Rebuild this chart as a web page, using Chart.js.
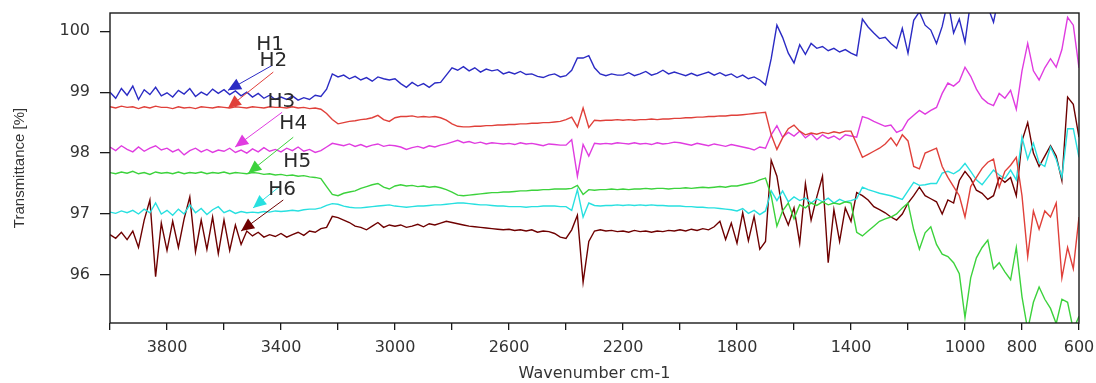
<!DOCTYPE html>
<html>
<head>
<meta charset="utf-8">
<script src="https://cdn.jsdelivr.net/npm/chart.js@4/dist/chart.umd.min.js"></script>
<style>
  html, body { margin: 0; padding: 0; background: #fff; }
</style>
</head>
<body>
<canvas id="ftirChart" width="1096" height="383"></canvas>
<script>
// wavenumber grid (cm-1), shared by all spectra
const wavenumbers = [
  4000, 3980, 3960, 3940, 3920, 3900, 3880, 3860, 3840, 3820,
  3800, 3780, 3760, 3740, 3720, 3700, 3680, 3660, 3640, 3620,
  3600, 3580, 3560, 3540, 3520, 3500, 3480, 3460, 3440, 3420,
  3400, 3380, 3360, 3340, 3320, 3300, 3280, 3260, 3240, 3220,
  3200, 3180, 3160, 3140, 3120, 3100, 3080, 3060, 3040, 3020,
  3000, 2980, 2960, 2940, 2920, 2900, 2880, 2860, 2840, 2820,
  2800, 2780, 2760, 2740, 2720, 2700, 2680, 2660, 2640, 2620,
  2600, 2580, 2560, 2540, 2520, 2500, 2480, 2460, 2440, 2420,
  2400, 2380, 2360, 2340, 2320, 2300, 2280, 2260, 2240, 2220,
  2200, 2180, 2160, 2140, 2120, 2100, 2080, 2060, 2040, 2020,
  2000, 1980, 1960, 1940, 1920, 1900, 1880, 1860, 1840, 1820,
  1800, 1780, 1760, 1740, 1720, 1700, 1680, 1660, 1640, 1620,
  1600, 1580, 1560, 1540, 1520, 1500, 1480, 1460, 1440, 1420,
  1400, 1380, 1360, 1340, 1320, 1300, 1280, 1260, 1240, 1220,
  1200, 1180, 1160, 1140, 1120, 1100, 1080, 1060, 1040, 1020,
  1000, 980, 960, 940, 920, 900, 880, 860, 840, 820,
  800, 780, 760, 740, 720, 700, 680, 660, 640, 620,
  600
];

// transmittance [%]
const h1 = [
  99.00, 98.90, 99.06, 98.95, 99.10, 98.88, 99.04, 98.96, 99.08, 98.94,
  98.99, 98.92, 99.03, 98.97, 99.06, 98.93, 99.00, 98.95, 99.05, 98.98,
  99.04, 98.96, 99.02, 98.94, 99.00, 98.92, 98.98, 98.90, 98.95, 98.88,
  98.92, 98.88, 98.94, 98.87, 98.91, 98.88, 98.95, 98.93, 99.05, 99.30,
  99.25, 99.28, 99.22, 99.26, 99.20, 99.24, 99.18, 99.25, 99.22, 99.20,
  99.22, 99.14, 99.08, 99.16, 99.10, 99.14, 99.08, 99.15, 99.16, 99.28,
  99.40, 99.36, 99.42, 99.35, 99.40, 99.33, 99.38, 99.35, 99.37, 99.30,
  99.33, 99.30, 99.34, 99.29, 99.30, 99.26, 99.24, 99.28, 99.30, 99.25,
  99.27, 99.36, 99.56, 99.56, 99.60, 99.40, 99.30, 99.27, 99.30, 99.28,
  99.28, 99.32, 99.27, 99.30, 99.34, 99.28, 99.31, 99.36, 99.30, 99.33,
  99.30, 99.27, 99.31, 99.27, 99.30, 99.33, 99.28, 99.32, 99.27, 99.30,
  99.24, 99.28, 99.22, 99.25, 99.20, 99.12, 99.55, 100.10, 99.90, 99.64,
  99.48, 99.78, 99.62, 99.80, 99.72, 99.75, 99.68, 99.72, 99.66, 99.70,
  99.64, 99.60, 100.20, 100.07, 99.97, 99.88, 99.90, 99.80, 99.72, 100.05,
  99.64, 100.18, 100.32, 100.10, 100.02, 99.80, 100.08, 100.50, 99.97, 100.20,
  99.82, 100.50, 100.45, 100.60, 100.40, 100.15, 100.60, 100.70, 100.60, 100.70,
  100.70, 100.80, 100.70, 100.80, 100.70, 100.80, 100.70, 100.80, 100.70, 100.80,
  100.70
];
const h2 = [
  98.76, 98.74, 98.77, 98.75, 98.76, 98.73, 98.76, 98.74, 98.77, 98.75,
  98.75, 98.73, 98.76, 98.74, 98.75, 98.73, 98.76, 98.75, 98.74, 98.76,
  98.75, 98.74, 98.76, 98.75, 98.74, 98.76, 98.75, 98.74, 98.76, 98.75,
  98.75, 98.74, 98.76, 98.74, 98.75, 98.73, 98.74, 98.72, 98.65, 98.55,
  98.48, 98.50, 98.52, 98.53, 98.55, 98.56, 98.58, 98.62, 98.55, 98.52,
  98.58, 98.60, 98.60, 98.61, 98.59, 98.60, 98.59, 98.60, 98.58, 98.54,
  98.48, 98.44, 98.43, 98.43, 98.44, 98.44, 98.45, 98.45, 98.46, 98.46,
  98.47, 98.47, 98.48, 98.48, 98.49, 98.49, 98.50, 98.50, 98.51, 98.52,
  98.55, 98.59, 98.43, 98.74, 98.42, 98.54, 98.53, 98.54, 98.54, 98.55,
  98.54, 98.55, 98.54, 98.55, 98.55, 98.56, 98.55, 98.56, 98.56, 98.57,
  98.57, 98.58, 98.58, 98.59, 98.59, 98.60, 98.60, 98.61, 98.61, 98.62,
  98.62, 98.63, 98.64, 98.65, 98.66, 98.67, 98.30, 98.06, 98.25, 98.40,
  98.46, 98.36, 98.30, 98.33, 98.31, 98.34, 98.32, 98.35, 98.33, 98.36,
  98.36, 98.15, 97.93, 97.98, 98.03, 98.08, 98.15, 98.25, 98.12, 98.30,
  98.20, 97.78, 97.74, 98.00, 98.04, 98.08, 97.78, 97.60, 97.45, 97.30,
  96.95, 97.45, 97.60, 97.75, 97.85, 97.90, 97.44, 97.70, 97.80, 97.93,
  97.30, 96.30, 97.05, 96.75, 97.05, 96.95, 97.18, 95.95, 96.45, 96.10,
  96.95
];
const h3 = [
  98.10, 98.04, 98.12, 98.06, 98.02, 98.10, 98.03, 98.08, 98.12, 98.05,
  98.08, 98.02, 98.06, 97.97, 98.04, 98.08, 98.02, 98.06, 98.01, 98.05,
  98.03, 98.08, 98.01, 98.05, 98.00, 98.07, 98.02, 98.09, 98.03, 98.06,
  98.02, 98.08, 98.04, 98.10, 98.03, 98.06, 98.01, 98.04, 98.10, 98.16,
  98.14, 98.12, 98.15, 98.11, 98.14, 98.10, 98.13, 98.15, 98.11, 98.13,
  98.12, 98.10, 98.06, 98.09, 98.11, 98.08, 98.12, 98.10, 98.13, 98.15,
  98.18, 98.21, 98.17, 98.19, 98.16, 98.18, 98.15, 98.17, 98.16, 98.15,
  98.16, 98.14, 98.17, 98.15, 98.16, 98.14, 98.12, 98.15, 98.14, 98.13,
  98.13, 98.22, 97.62, 98.14, 97.95, 98.16, 98.15, 98.16, 98.15, 98.17,
  98.16, 98.15, 98.17, 98.15, 98.16, 98.14, 98.17, 98.15, 98.16, 98.18,
  98.17, 98.15, 98.13, 98.16, 98.14, 98.12, 98.15, 98.13, 98.11, 98.14,
  98.12, 98.10, 98.08, 98.05, 98.10, 98.08, 98.30, 98.45, 98.26, 98.34,
  98.28, 98.36, 98.25, 98.32, 98.22, 98.30, 98.24, 98.28, 98.22, 98.30,
  98.28, 98.26, 98.60, 98.57, 98.52, 98.48, 98.44, 98.46, 98.34, 98.38,
  98.54, 98.62, 98.70, 98.64, 98.70, 98.75, 98.98, 99.15, 99.10, 99.18,
  99.41, 99.26, 99.05, 98.90, 98.82, 98.78, 98.98, 98.90, 99.03, 98.72,
  99.35, 99.80, 99.35, 99.20, 99.40, 99.55, 99.41, 99.70, 100.23, 100.10,
  99.40
];
const h4 = [
  97.68, 97.66, 97.69, 97.67, 97.70, 97.66, 97.68, 97.65, 97.69, 97.67,
  97.68, 97.66, 97.69, 97.66, 97.68, 97.67, 97.69, 97.66, 97.68, 97.67,
  97.69, 97.66, 97.68, 97.67, 97.66, 97.68, 97.67, 97.65, 97.66, 97.64,
  97.65, 97.63, 97.64, 97.62, 97.63, 97.61, 97.60, 97.58, 97.45, 97.32,
  97.30, 97.34, 97.36, 97.38, 97.42, 97.45, 97.48, 97.50, 97.44, 97.41,
  97.46, 97.48, 97.46, 97.47, 97.45, 97.46, 97.44, 97.45, 97.43, 97.40,
  97.36, 97.31, 97.30, 97.31, 97.32, 97.33, 97.34, 97.35, 97.35, 97.36,
  97.36, 97.37, 97.38, 97.38, 97.39, 97.39, 97.40, 97.40, 97.41, 97.41,
  97.41, 97.42, 97.47, 97.32, 97.40, 97.39, 97.40, 97.40, 97.41, 97.40,
  97.41, 97.40, 97.41, 97.41, 97.42, 97.41, 97.42, 97.42, 97.41, 97.42,
  97.42, 97.43, 97.42, 97.43, 97.44, 97.43, 97.44, 97.45, 97.44, 97.46,
  97.46, 97.48, 97.50, 97.52, 97.56, 97.59, 97.30, 96.80, 97.05, 97.18,
  96.92, 97.15, 97.10, 97.18, 97.14, 97.20, 97.15, 97.18, 97.16, 97.20,
  97.18, 96.70, 96.64, 96.72, 96.80, 96.88, 96.92, 96.95, 97.00, 97.10,
  97.18, 96.74, 96.42, 96.69, 96.79, 96.50, 96.34, 96.30, 96.20, 96.02,
  95.30, 95.95, 96.28, 96.45, 96.57, 96.10, 96.20, 96.05, 95.92, 96.45,
  95.64, 95.10, 95.55, 95.80, 95.60, 95.45, 95.20, 95.60, 95.55, 95.10,
  95.32
];
const h5 = [
  97.03, 97.01, 97.05, 97.02, 97.06, 97.00, 97.08, 97.02, 97.18, 97.00,
  97.06, 96.98, 97.08, 97.00, 97.15, 97.02, 97.09, 96.99, 97.07, 97.12,
  97.02, 97.06, 97.01, 97.04, 97.02, 97.03, 97.02, 97.04, 97.03, 97.05,
  97.04, 97.05, 97.06, 97.05, 97.07, 97.08, 97.08, 97.10, 97.14, 97.17,
  97.16, 97.13, 97.11, 97.10, 97.10, 97.11, 97.12, 97.13, 97.14, 97.15,
  97.13, 97.12, 97.11, 97.12, 97.13, 97.13, 97.14, 97.15, 97.15, 97.16,
  97.17, 97.18, 97.18, 97.17, 97.16, 97.15, 97.15, 97.14, 97.13, 97.13,
  97.12, 97.12, 97.12, 97.11, 97.12, 97.12, 97.13, 97.13, 97.13, 97.12,
  97.12, 97.06, 97.40, 96.95, 97.18, 97.14, 97.13, 97.14, 97.14, 97.15,
  97.14, 97.15, 97.14, 97.15, 97.14, 97.15, 97.14, 97.14, 97.13, 97.13,
  97.13, 97.12, 97.12, 97.11, 97.11, 97.10, 97.10, 97.09, 97.08, 97.07,
  97.05, 97.09, 97.01, 97.06, 96.99, 97.05, 97.38, 97.22, 97.38, 97.20,
  97.28, 97.22, 97.26, 97.18, 97.25, 97.20, 97.26, 97.18, 97.24, 97.20,
  97.22, 97.25, 97.44, 97.40, 97.37, 97.34, 97.32, 97.30, 97.27, 97.24,
  97.38, 97.52, 97.47, 97.48, 97.50, 97.50, 97.67, 97.70, 97.66, 97.72,
  97.83, 97.70, 97.56, 97.48, 97.60, 97.72, 97.64, 97.58, 97.72, 97.56,
  98.26, 97.90, 98.16, 97.84, 97.78, 98.10, 97.90, 97.60, 98.40, 98.40,
  97.93
];
const h6 = [
  96.66, 96.60, 96.70, 96.58, 96.72, 96.45, 96.90, 97.23, 95.97, 96.85,
  96.40, 96.88, 96.45, 96.92, 97.28, 96.38, 96.90, 96.42, 96.95, 96.35,
  96.90, 96.40, 96.82, 96.50, 96.72, 96.64, 96.70, 96.62, 96.66, 96.63,
  96.68, 96.62, 96.66, 96.70, 96.65, 96.72, 96.70, 96.76, 96.78, 96.96,
  96.94, 96.90, 96.86, 96.80, 96.78, 96.74, 96.80, 96.86, 96.78, 96.82,
  96.80, 96.82, 96.78, 96.80, 96.83, 96.79, 96.84, 96.82, 96.85, 96.88,
  96.86, 96.84, 96.82, 96.80, 96.79, 96.78, 96.77, 96.76, 96.75, 96.74,
  96.75, 96.73, 96.74, 96.72, 96.74, 96.70, 96.72, 96.71, 96.68, 96.62,
  96.60, 96.74, 96.98, 95.88, 96.55, 96.72, 96.74, 96.72, 96.73, 96.71,
  96.72, 96.70, 96.73, 96.71, 96.72, 96.70, 96.72, 96.71, 96.73, 96.72,
  96.74, 96.72, 96.75, 96.73, 96.76, 96.74, 96.79, 96.88, 96.58, 96.85,
  96.52, 97.02, 96.56, 96.96, 96.42, 96.55, 97.88, 97.62, 97.05, 96.82,
  97.10, 96.52, 97.50, 96.90, 97.28, 97.62, 96.20, 97.07, 96.55, 97.10,
  96.88, 97.35, 97.30, 97.23, 97.12, 97.07, 97.02, 96.95, 96.90, 97.00,
  97.18, 97.30, 97.44, 97.30, 97.25, 97.20, 97.00, 97.23, 97.18, 97.55,
  97.70, 97.58, 97.39, 97.34, 97.24, 97.30, 97.60, 97.52, 97.60, 97.30,
  98.20, 98.50, 98.00, 97.78, 97.95, 98.12, 97.95, 97.55, 98.92, 98.80,
  98.26
];

const seriesNames = ['H1', 'H2', 'H3', 'H4', 'H5', 'H6'];
const seriesColors = ['#2b2bc4', '#e0403a', '#e03ce0', '#3cd23c', '#28e0e0', '#6e0000'];
const xTicks = [4000, 3800, 3600, 3400, 3200, 3000, 2800, 2600, 2400, 2200, 2000, 1800, 1600, 1400, 1200, 1000, 800, 600];
const xTickLabels = [3800, 3400, 3000, 2600, 2200, 1800, 1400, 1000, 800, 600];
const yTicks = [96, 97, 98, 99, 100];

// callout labels with arrows, in data units (wavenumber, transmittance)
const callouts = [
  { text: 'H1', tx: 3438, ty: 99.77, from: [3431, 99.44], to: [3586, 99.03] },
  { text: 'H2', tx: 3427, ty: 99.52, from: [3427, 99.33], to: [3586, 98.74] },
  { text: 'H3', tx: 3399, ty: 98.85, from: [3396, 98.67], to: [3561, 98.10] },
  { text: 'H4', tx: 3357, ty: 98.48, from: [3357, 98.26], to: [3515, 97.67] },
  { text: 'H5', tx: 3343, ty: 97.85, from: [3403, 97.46], to: [3498, 97.10] },
  { text: 'H6', tx: 3396, ty: 97.39, from: [3392, 97.23], to: [3540, 96.72] }
];

const allSeries = [h1, h2, h3, h4, h5, h6];

function drawArrow(ctx, x1, y1, x2, y2, color) {
    ctx.strokeStyle = color;
    ctx.fillStyle = color;
    ctx.lineWidth = 1;
    ctx.beginPath();
    ctx.moveTo(x1, y1);
    ctx.lineTo(x2, y2);
    ctx.stroke();
    const ang = Math.atan2(y2 - y1, x2 - x1);
    const len = 13, half = 6;
    const bx = x2 - len * Math.cos(ang), by = y2 - len * Math.sin(ang);
    ctx.beginPath();
    ctx.moveTo(x2, y2);
    ctx.lineTo(bx + half * Math.sin(ang), by - half * Math.cos(ang));
    ctx.lineTo(bx - half * Math.sin(ang), by + half * Math.cos(ang));
    ctx.closePath();
    ctx.fill();
}

// box round the plot and the H1..H6 callouts
const framePlugin = {
    id: 'frame',
    afterDraw(chart) {
        const { ctx, chartArea: a, scales } = chart;
        ctx.save();
        ctx.strokeStyle = '#1a1a1a';
        ctx.lineWidth = 1.4;
        ctx.strokeRect(a.left, a.top, a.right - a.left, a.bottom - a.top);

        callouts.forEach((c, i) => {
            drawArrow(ctx,
                scales.x.getPixelForValue(c.from[0]), scales.y.getPixelForValue(c.from[1]),
                scales.x.getPixelForValue(c.to[0]), scales.y.getPixelForValue(c.to[1]),
                seriesColors[i]);
        });
        ctx.font = '20px "DejaVu Sans"';
        ctx.fillStyle = '#2a2a2a';
        ctx.textAlign = 'center';
        ctx.textBaseline = 'middle';
        callouts.forEach(c => {
            ctx.fillText(c.text, scales.x.getPixelForValue(c.tx), scales.y.getPixelForValue(c.ty));
        });
        ctx.restore();
    }
};

const ctx = document.getElementById('ftirChart').getContext('2d');
new Chart(ctx, {
    type: 'line',
    data: {
        datasets: allSeries.map((vals, i) => ({
            label: seriesNames[i],
            data: wavenumbers.map((w, j) => ({ x: w, y: vals[j] })),
            borderColor: seriesColors[i],
            borderWidth: 1.4,
            pointRadius: 0,
            tension: 0,
            fill: false
        }))
    },
    options: {
        responsive: false,
        animation: false,
        devicePixelRatio: 1,
        layout: { padding: { left: 0, right: 17, top: 13, bottom: 0 } },
        plugins: {
            legend: { display: false },
            tooltip: { enabled: false }
        },
        scales: {
            x: {
                type: 'linear',
                reverse: true,
                min: 600,
                max: 4000,
                afterBuildTicks: axis => { axis.ticks = xTicks.map(v => ({ value: v })); },
                afterFit: axis => { axis.height = 60; axis.paddingLeft = 0; axis.paddingRight = 0; },
                border: { display: false },
                grid: { drawOnChartArea: false, drawTicks: true, tickLength: 7, color: '#1a1a1a', lineWidth: 1.3 },
                ticks: {
                    autoSkip: false,
                    maxRotation: 0,
                    padding: 8,
                    color: '#333',
                    font: { family: 'DejaVu Sans', size: 16 },
                    callback: v => xTickLabels.includes(v) ? String(v) : ''
                },
                title: {
                    display: true,
                    text: 'Wavenumber cm-1',
                    color: '#333',
                    font: { family: 'DejaVu Sans', size: 16 },
                    padding: { top: 0, bottom: 0 }
                }
            },
            y: {
                min: 95.21,
                max: 100.3,
                afterBuildTicks: axis => { axis.ticks = yTicks.map(v => ({ value: v })); },
                afterFit: axis => { axis.width = 110; axis.paddingTop = 0; axis.paddingBottom = 0; },
                border: { display: false },
                grid: { drawOnChartArea: false, drawTicks: true, tickLength: 10, color: '#1a1a1a', lineWidth: 1.3 },
                ticks: {
                    padding: 10,
                    color: '#333',
                    font: { family: 'DejaVu Sans', size: 16 }
                },
                title: {
                    display: true,
                    text: 'Transmittance [%]',
                    color: '#333',
                    font: { family: 'Liberation Sans', size: 15 },
                    padding: { top: 11, bottom: 0 }
                }
            }
        }
    },
    plugins: [framePlugin]
});
</script>
</body>
</html>
